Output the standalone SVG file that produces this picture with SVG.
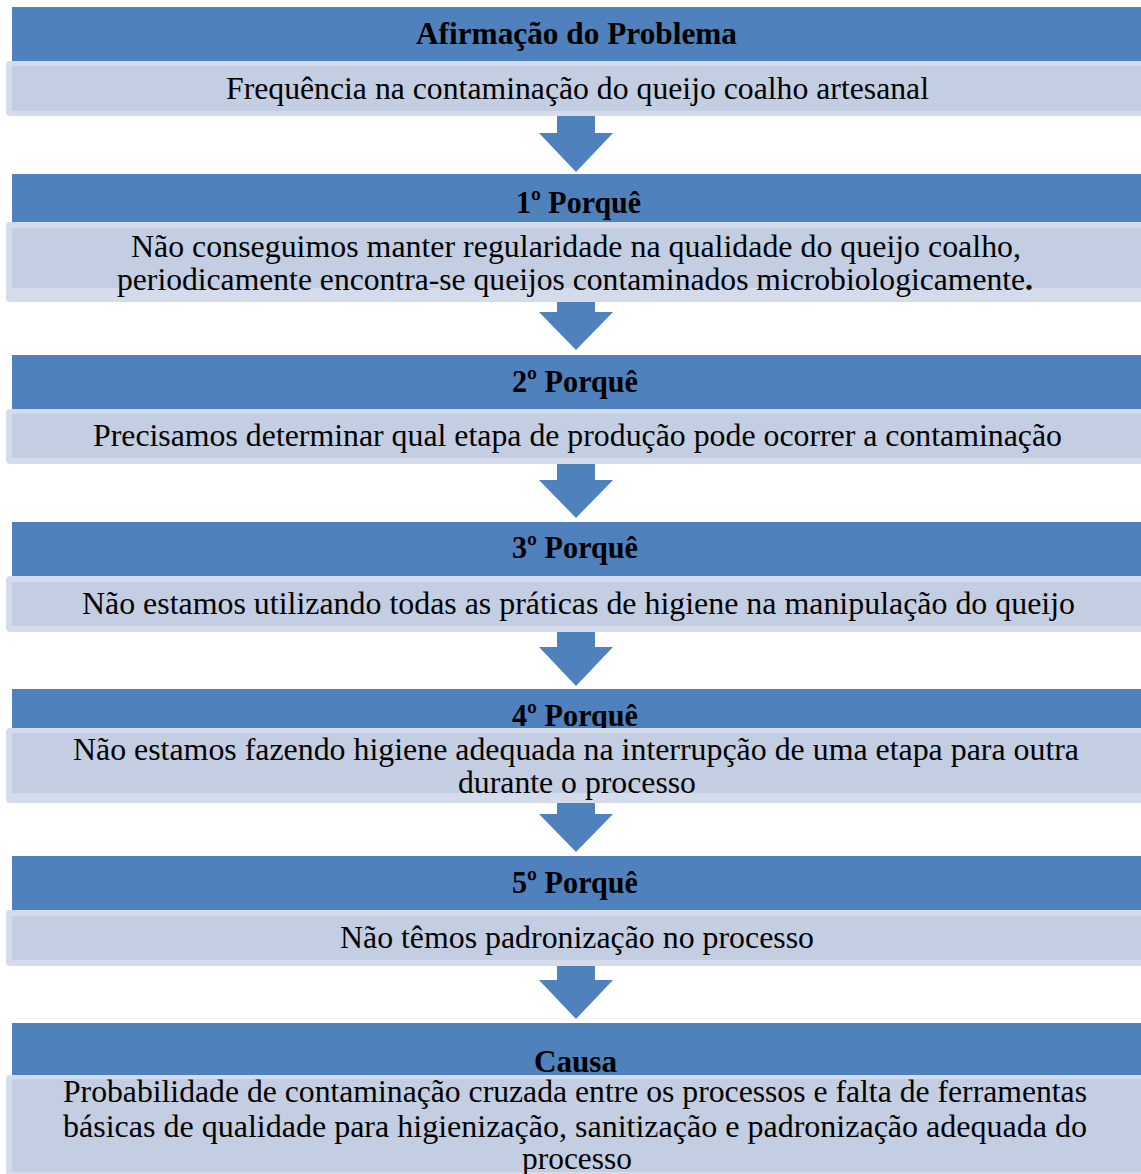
<svg xmlns="http://www.w3.org/2000/svg" width="1141" height="1174" viewBox="0 0 1141 1174">
  <style>
    .hdr { fill: #4f81bd; }
    .box-out { fill: #d4dbea; }
    .box-in { fill: #c3cee2; }
    .arrow { fill: #4f81bd; }
    text { font-family: 'Times New Roman', 'Liberation Serif', Tinos, serif; fill: #000; text-anchor: middle; }
    .title { font-size: 32px; font-weight: bold; }
    .body { font-size: 31px; }
  </style>
  <rect width="1141" height="1174" fill="#ffffff"/>

  <!-- downward block arrows between steps -->
  <g id="connectors">
    <polygon class="arrow" points="557,112 595,112 595,133 613,133 576,172 539,133 557,133"/>
    <polygon class="arrow" points="557,298 595,298 595,312 613,312 576,350 539,312 557,312"/>
    <polygon class="arrow" points="557,460 595,460 595,480 613,480 576,518 539,480 557,480"/>
    <polygon class="arrow" points="557,628 595,628 595,647 613,647 576,686 539,647 557,647"/>
    <polygon class="arrow" points="557,799 595,799 595,814 613,814 576,852 539,814 557,814"/>
    <polygon class="arrow" points="557,962 595,962 595,980 613,980 576,1019 539,980 557,980"/>
  </g>

  <g id="problema">
    <rect class="hdr" x="12" y="7" width="1135" height="56"/>
    <text class="title" x="576.5" y="44" textLength="321" lengthAdjust="spacingAndGlyphs">Afirmação  do Problema</text>
    <rect class="box-out" x="6" y="61" width="1141" height="55" rx="4"/>
    <rect class="box-in" x="12" y="66" width="1135" height="45"/>
    <text class="body" x="577.5" y="99" textLength="703" lengthAdjust="spacingAndGlyphs">Frequência  na contaminação  do queijo  coalho  artesanal</text>
  </g>

  <g id="porque-1">
    <rect class="hdr" x="12" y="174" width="1135" height="54"/>
    <text class="title" x="578.5" y="213" textLength="125" lengthAdjust="spacingAndGlyphs">1º Porquê</text>
    <rect class="box-out" x="6" y="222" width="1141" height="80" rx="4"/>
    <rect class="box-in" x="12" y="228" width="1135" height="60"/>
    <text class="body" x="576" y="257" textLength="890" lengthAdjust="spacingAndGlyphs">Não conseguimos  manter  regularidade  na qualidade  do queijo  coalho,</text>
    <text class="body" x="575" y="290" textLength="916" lengthAdjust="spacingAndGlyphs">periodicamente  encontra-se queijos  contaminados  microbiologicamente<tspan font-weight="bold">.</tspan></text>
  </g>

  <g id="porque-2">
    <rect class="hdr" x="12" y="355" width="1135" height="56"/>
    <text class="title" x="575" y="392" textLength="126" lengthAdjust="spacingAndGlyphs">2º Porquê</text>
    <rect class="box-out" x="6" y="409" width="1141" height="55" rx="4"/>
    <rect class="box-in" x="12" y="414" width="1135" height="44"/>
    <text class="body" x="577.5" y="446" textLength="969" lengthAdjust="spacingAndGlyphs">Precisamos  determinar  qual etapa de produção pode ocorrer a contaminação</text>
  </g>

  <g id="porque-3">
    <rect class="hdr" x="12" y="522" width="1135" height="56"/>
    <text class="title" x="575" y="558" textLength="126" lengthAdjust="spacingAndGlyphs">3º Porquê</text>
    <rect class="box-out" x="6" y="576" width="1141" height="56" rx="4"/>
    <rect class="box-in" x="12" y="582" width="1135" height="44"/>
    <text class="body" x="578.5" y="614" textLength="993" lengthAdjust="spacingAndGlyphs">Não estamos utilizando  todas as práticas  de higiene  na manipulação  do queijo</text>
  </g>

  <g id="porque-4">
    <rect class="hdr" x="12" y="689" width="1135" height="44"/>
    <text class="title" x="575" y="726" textLength="126" lengthAdjust="spacingAndGlyphs">4º Porquê</text>
    <rect class="box-out" x="6" y="728" width="1141" height="75" rx="4"/>
    <rect class="box-in" x="12" y="733" width="1135" height="60"/>
    <text class="body" x="576" y="760" textLength="1006" lengthAdjust="spacingAndGlyphs">Não estamos  fazendo  higiene  adequada na interrupção  de uma  etapa para outra</text>
    <text class="body" x="577" y="793" textLength="238" lengthAdjust="spacingAndGlyphs">durante  o processo</text>
  </g>

  <g id="porque-5">
    <rect class="hdr" x="12" y="856" width="1135" height="56"/>
    <text class="title" x="575" y="893" textLength="126" lengthAdjust="spacingAndGlyphs">5º Porquê</text>
    <rect class="box-out" x="6" y="910" width="1141" height="56" rx="4"/>
    <rect class="box-in" x="12" y="916" width="1135" height="44"/>
    <text class="body" x="577" y="948" textLength="474" lengthAdjust="spacingAndGlyphs">Não têmos  padronização  no processo</text>
  </g>

  <g id="causa">
    <rect class="hdr" x="12" y="1023" width="1135" height="56"/>
    <text class="title" x="575.5" y="1072" textLength="83" lengthAdjust="spacingAndGlyphs">Causa</text>
    <rect class="box-out" x="6" y="1075" width="1141" height="110" rx="4"/>
    <rect class="box-in" x="12" y="1079" width="1135" height="93"/>
    <text class="body" x="575" y="1102" textLength="1024" lengthAdjust="spacingAndGlyphs">Probabilidade  de contaminação  cruzada  entre  os processos e falta  de  ferramentas</text>
    <text class="body" x="575" y="1137" textLength="1024" lengthAdjust="spacingAndGlyphs">básicas  de qualidade  para higienização,  sanitização  e padronização  adequada  do</text>
    <text class="body" x="577" y="1169" textLength="110" lengthAdjust="spacingAndGlyphs">processo</text>
  </g>
</svg>
